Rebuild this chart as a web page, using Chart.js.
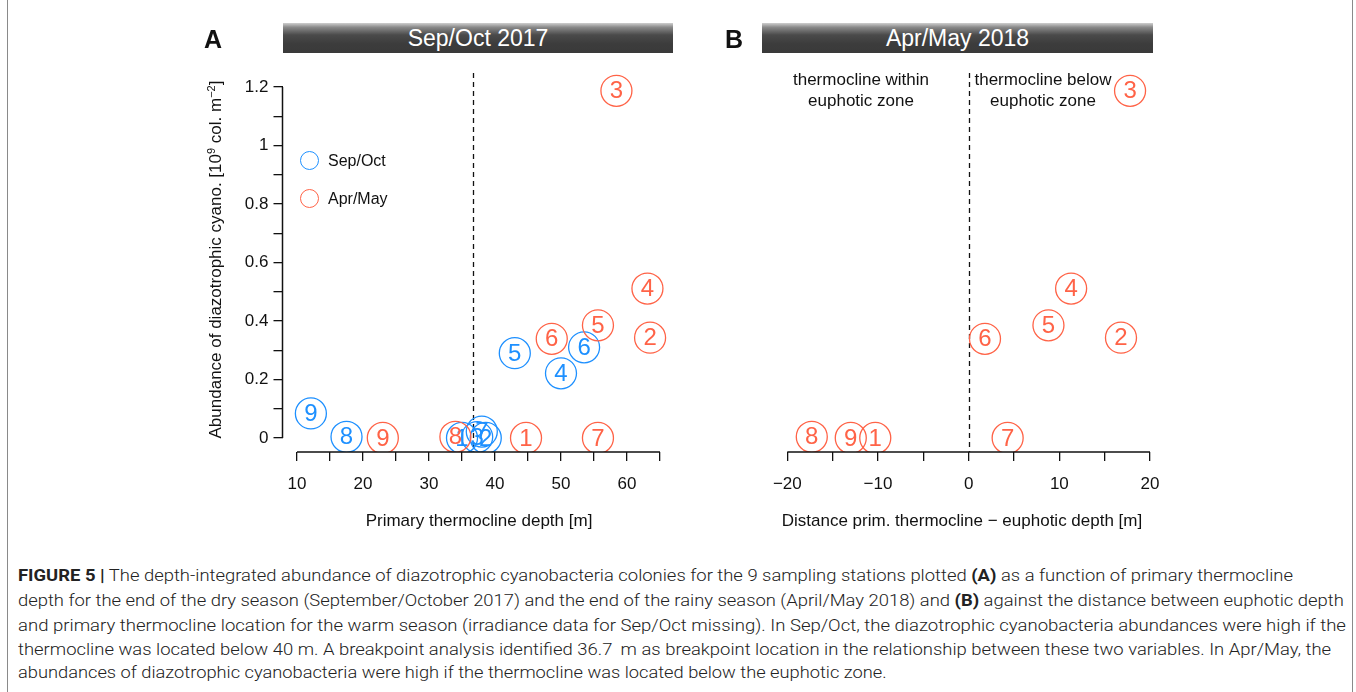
<!DOCTYPE html>
<html>
<head>
<meta charset="utf-8">
<script src="https://cdn.jsdelivr.net/npm/chart.js@4.4.1/dist/chart.umd.min.js"></script>
<style>
  html, body { margin:0; padding:0; background:#fff; }
  body { width:1356px; height:692px; position:relative; overflow:hidden; font-family:"Liberation Sans", Arial, sans-serif; color:#111; }
  .abs { position:absolute; }
  .bar { position:absolute; height:30px; color:#fff; font-size:23px; line-height:30px; text-align:center;
         background:linear-gradient(to bottom, #cfcfcf 0%, #8a8a8a 14%, #4a4a4a 40%, #3c3c3c 70%, #3a3a3a 100%); }
  .panel { position:absolute; font-weight:bold; font-size:25px; line-height:25px; }
  .ann { position:absolute; font-size:17px; line-height:21px; text-align:center; white-space:nowrap; }
  .axt { position:absolute; font-size:17px; line-height:20px; white-space:nowrap; text-align:center; }
  .leg { position:absolute; font-size:16px; line-height:20px; white-space:nowrap; }
  .legc { position:absolute; width:19px; height:19px; border-radius:50%; box-sizing:border-box; border:1.4px solid; }
  .cap { position:absolute; left:18px; font-family:Roboto,"Liberation Sans",Arial,sans-serif; font-weight:300; font-size:17px; line-height:20px; white-space:nowrap; transform-origin:0 50%; color:#222; }
  .cap b { font-weight:700; }
  .vline { position:absolute; top:0; width:1px; height:692px; background:#8a8a8a; }
</style>
</head>
<body>
<div class="vline" style="left:7px"></div>
<div class="vline" style="left:1352px"></div>

<div class="abs" style="left:0;top:0;width:700px;height:540px"><canvas id="cA" width="700" height="540"></canvas></div>
<div class="abs" style="left:700px;top:0;width:656px;height:540px"><canvas id="cB" width="656" height="540"></canvas></div>

<div class="panel" style="left:204px;top:27px">A</div>
<div class="panel" style="left:725px;top:27px">B</div>
<div class="bar" style="left:283px;top:23px;width:390px">Sep/Oct 2017</div>
<div class="bar" style="left:762px;top:23px;width:391px">Apr/May 2018</div>

<div class="ann" style="left:761px;top:69px;width:200px">thermocline within<br>euphotic zone</div>
<div class="ann" style="left:943px;top:69px;width:200px">thermocline below<br>euphotic zone</div>

<div class="axt" style="left:329px;top:511px;width:300px">Primary thermocline depth [m]</div>
<div class="axt" style="left:762px;top:511px;width:400px">Distance prim. thermocline &#8722; euphotic depth [m]</div>
<div class="axt" style="left:23px;top:247px;width:380px;transform:rotate(-90deg);transform-origin:50% 50%;font-size:17px">Abundance of diazotrophic cyano. [10<sup style="font-size:11px;vertical-align:6px">9</sup> col. m<sup style="font-size:11px;vertical-align:6px">&#8722;2</sup>]</div>

<div class="legc" style="left:300px;top:151px;border-color:#1E90FF"></div>
<div class="leg" style="left:328px;top:151px">Sep/Oct</div>
<div class="legc" style="left:300px;top:189px;border-color:#FF6347"></div>
<div class="leg" style="left:328px;top:189px">Apr/May</div>

<div class="cap" data-w="1275" style="top:565px"><b>FIGURE 5 |</b> The depth-integrated abundance of diazotrophic cyanobacteria colonies for the 9 sampling stations plotted <b>(A)</b> as a function of primary thermocline</div>
<div class="cap" data-w="1326" style="top:590px">depth for the end of the dry season (September/October 2017) and the end of the rainy season (April/May 2018) and <b>(B)</b> against the distance between euphotic depth</div>
<div class="cap" data-w="1328" style="top:615px">and primary thermocline location for the warm season (irradiance data for Sep/Oct missing). In Sep/Oct, the diazotrophic cyanobacteria abundances were high if the</div>
<div class="cap" data-w="1313" style="top:639px">thermocline was located below 40 m. A breakpoint analysis identified 36.7&#8201; m as breakpoint location in the relationship between these two variables. In Apr/May, the</div>
<div class="cap" data-w="869" style="top:662px">abundances of diazotrophic cyanobacteria were high if the thermocline was located below the euphotic zone.</div>

<script>
// ---------------- data ----------------
const stations = ['1','2','3','4','5','6','7','8','9'];
// Sep/Oct 2017: primary thermocline depth [m] and abundance [10^9 col. m^-2]
const sepOctDepth = [35.0, 38.6, 37.3, 50.0, 43.0, 53.5, 38.0, 17.5, 12.1];
const sepOctAbund = [0.000, 0.000, 0.003, 0.221, 0.290, 0.310, 0.022, 0.004, 0.084];
// Apr/May 2018
const aprMayDepth = [44.7, 63.5, 58.4, 63.1, 55.6, 48.6, 55.6, 34.0, 23.0];
const aprMayAbund = [0.000, 0.343, 1.187, 0.511, 0.385, 0.339, 0.000, 0.004, 0.000];
// Apr/May 2018: distance primary thermocline - euphotic depth [m]
const aprMayDist  = [-10.3, 16.8, 17.8, 11.3, 8.8, 1.8, 4.3, -17.3, -13.0];

const breakpointA = 36.7;
const breakpointB = 0;

const xMajorA = [10, 20, 30, 40, 50, 60];
const xMinorA = [15, 25, 35, 45, 55, 65];
const xMajorB = [-20, -10, 0, 10, 20];
const xMinorB = [-15, -5, 5, 15];
const yMajor = [0, 0.2, 0.4, 0.6, 0.8, 1, 1.2];
const yLabels = ['0', '0.2', '0.4', '0.6', '0.8', '1', '1.2'];
const yMinor = [0.1, 0.3, 0.5, 0.7, 0.9, 1.1];

const BLUE = '#1E90FF', RED = '#FF6347', INK = '#111111';
const FONT = '"Liberation Sans", Arial, sans-serif';

// ---------------- helpers ----------------
const pts = (xs, ys) => xs.map((x, i) => ({x: x, y: ys[i]}));
const merged = (a, b) => a.concat(b).sort((p, q) => p - q);
const fmtMinus = v => v < 0 ? '\u2212' + Math.abs(v) : String(v);

const markerLabels = {
  id: 'markerLabels',
  afterDatasetDraw(chart, args) {
    const ds = chart.data.datasets[args.index];
    const meta = args.meta;
    const ctx = chart.ctx;
    ctx.save();
    ctx.fillStyle = ds.borderColor;
    ctx.font = '24px ' + FONT;
    ctx.textAlign = 'center';
    ctx.textBaseline = 'middle';
    meta.data.forEach((el, i) => ctx.fillText(ds.ids[i], el.x, el.y + 1));
    ctx.restore();
  }
};

const axisLines = {
  id: 'axisLines',
  afterDraw(chart, args, opts) {
    const ctx = chart.ctx, xs = chart.scales.x, ys = chart.scales.y, ca = chart.chartArea;
    ctx.save();
    ctx.strokeStyle = INK; ctx.lineWidth = 1.5; ctx.lineCap = 'butt';
    ctx.beginPath();
    ctx.moveTo(xs.getPixelForValue(opts.xFrom), ca.bottom);
    ctx.lineTo(xs.getPixelForValue(opts.xTo), ca.bottom);
    if (opts.yAxis) {
      ctx.moveTo(ca.left, ys.getPixelForValue(opts.yFrom));
      ctx.lineTo(ca.left, ys.getPixelForValue(opts.yTo));
    }
    ctx.stroke();
    ctx.restore();
  }
};

const dashLine = {
  id: 'dashLine',
  beforeDatasetsDraw(chart, args, opts) {
    const ctx = chart.ctx, ca = chart.chartArea;
    const x = Math.round(chart.scales.x.getPixelForValue(opts.at)) + 0.5;
    ctx.save();
    ctx.strokeStyle = INK; ctx.lineWidth = 1.3; ctx.setLineDash([5, 4]);
    ctx.beginPath(); ctx.moveTo(x, ca.top); ctx.lineTo(x, ca.bottom); ctx.stroke();
    ctx.restore();
  }
};

function xScale(min, max, ticks, majors, fmt) {
  return {
    type: 'linear', min: min, max: max,
    afterBuildTicks: s => { s.ticks = ticks.map(v => ({value: v})); },
    afterFit: s => { s.height = 60; },
    grid: {drawOnChartArea: false, drawTicks: true, tickLength: 9, color: INK, lineWidth: 1.3},
    border: {display: false},
    ticks: {
      autoSkip: false, maxRotation: 0, padding: 13, color: INK,
      font: {size: 17, family: FONT},
      callback: v => majors.includes(v) ? fmt(v) : ''
    }
  };
}

function circleSet(label, data, color, order) {
  return {
    label: label, data: data, ids: stations, order: order,
    borderColor: color, backgroundColor: 'rgba(0,0,0,0)',
    pointRadius: 15.5, pointHoverRadius: 15.5, pointBorderWidth: 1.3, pointHoverBorderWidth: 1.3
  };
}

const yTicks = merged(yMajor, yMinor);

new Chart(document.getElementById('cA'), {
  type: 'scatter',
  data: {datasets: [
    circleSet('Apr/May', pts(aprMayDepth, aprMayAbund), RED, 0),
    circleSet('Sep/Oct', pts(sepOctDepth, sepOctAbund), BLUE, 1)
  ]},
  options: {
    responsive: false, animation: false, events: [],
    layout: {padding: {left: 202.5, top: 73, right: 25.5, bottom: 28}},
    plugins: {
      legend: {display: false}, tooltip: {enabled: false},
      axisLines: {xFrom: 10, xTo: 65, yAxis: true, yFrom: 0, yTo: 1.2},
      dashLine: {at: breakpointA}
    },
    scales: {
      x: xScale(7.8, 67.2, merged(xMajorA, xMinorA), xMajorA, v => String(v)),
      y: {
        type: 'linear', min: -0.048, max: 1.248,
        afterBuildTicks: s => { s.ticks = yTicks.map(v => ({value: v})); },
        afterFit: s => { s.width = 80; },
        grid: {drawOnChartArea: false, drawTicks: true, tickLength: 9, color: INK, lineWidth: 1.3},
        border: {display: false},
        ticks: {
          autoSkip: false, padding: 5, color: INK, font: {size: 17, family: FONT},
          callback: v => { const k = yMajor.findIndex(m => Math.abs(m - v) < 1e-9); return k >= 0 ? yLabels[k] : ''; }
        }
      }
    }
  },
  plugins: [markerLabels, axisLines, dashLine]
});

new Chart(document.getElementById('cB'), {
  type: 'scatter',
  data: {datasets: [
    circleSet('Apr/May', pts(aprMayDist, aprMayAbund), RED, 0)
  ]},
  options: {
    responsive: false, animation: false, events: [],
    layout: {padding: {left: 62, top: 73, right: 203, bottom: 28}},
    plugins: {
      legend: {display: false}, tooltip: {enabled: false},
      axisLines: {xFrom: -20, xTo: 20, yAxis: false},
      dashLine: {at: breakpointB}
    },
    scales: {
      x: xScale(-22.79, 20.33, merged(xMajorB, xMinorB), xMajorB, fmtMinus),
      y: {type: 'linear', display: false, min: -0.048, max: 1.248}
    }
  },
  plugins: [markerLabels, axisLines, dashLine]
});

// fit caption lines to their measured widths
document.querySelectorAll('.cap').forEach(el => {
  const target = parseFloat(el.dataset.w);
  const w = el.scrollWidth;
  if (w > 0) el.style.transform = 'scaleX(' + (target / w) + ')';
});
</script>
</body>
</html>
